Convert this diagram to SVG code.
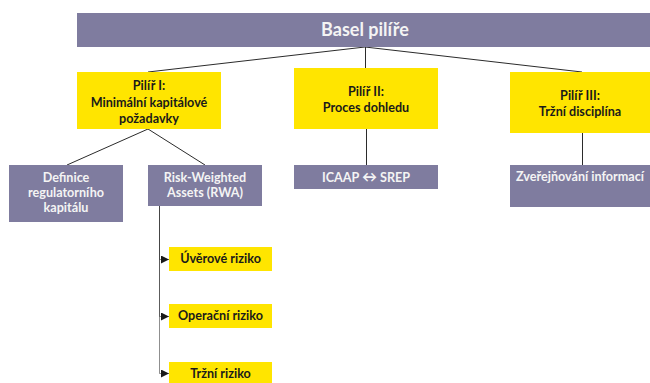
<svg xmlns="http://www.w3.org/2000/svg" width="650" height="383" viewBox="0 0 650 383">
<defs>
<style>
.p{fill:#7f7c9f}
.y{fill:#ffe500}
.t{font-family:Lato,"Liberation Sans",sans-serif;font-weight:bold;font-size:12.6px;text-anchor:middle}
.w{fill:#f4f4f4}
.k{fill:#1a1a1a}
.c{fill:none;stroke:#2b2b2b;stroke-width:1}
.r{fill:none;stroke:#333;stroke-opacity:0.55;stroke-width:1}
</style>
<marker id="ah" viewBox="0 0 8 8" refX="8" refY="4" markerWidth="8" markerHeight="8" markerUnits="userSpaceOnUse" orient="auto">
<path d="M0,0 L8,4 L0,8 Z" fill="#1a1a1a"/>
</marker>
</defs>
<rect width="650" height="383" fill="#fff"/>
<g id="connectors">
<path class="c" d="M365.5,47 V68"/>
<path class="c" d="M365,47 L148,72"/>
<path class="c" d="M365,47 L582,72"/>
<path class="c" d="M148,129 L67,165"/>
<path class="c" d="M148,129 L205,165"/>
<path class="c" d="M366.5,129 V165"/>
<path class="c" d="M582.5,133 V165"/>
<path class="r" d="M159.5,206 V259.5 H169" marker-end="url(#ah)"/>
<path class="r" d="M159.5,206 V316.5 H169" marker-end="url(#ah)"/>
<path class="r" d="M159.5,206 V373.5 H169" marker-end="url(#ah)"/>
</g>
<g id="basel">
<rect class="p" x="77" y="13" width="573" height="34"/>
<text class="t w" x="365" y="36" style="font-size:18px">Basel pilíře</text>
</g>
<g id="pilir1">
<rect class="y" x="77" y="72" width="144" height="57"/>
<text class="t k" x="149" y="90">Pilíř I:</text>
<text class="t k" x="149" y="107">Minimální kapitálové</text>
<text class="t k" x="149" y="123">požadavky</text>
</g>
<g id="pilir2">
<rect class="y" x="294" y="68" width="144" height="61"/>
<text class="t k" x="366" y="96">Pilíř II:</text>
<text class="t k" x="366" y="112">Proces dohledu</text>
</g>
<g id="pilir3">
<rect class="y" x="510" y="72" width="140" height="61"/>
<text class="t k" x="580" y="100">Pilíř III:</text>
<text class="t k" x="580" y="116">Tržní disciplína</text>
</g>
<g id="definice">
<rect class="p" x="9" y="165" width="114" height="57"/>
<text class="t w" x="66" y="182">Definice</text>
<text class="t w" x="66" y="197">regulatorního</text>
<text class="t w" x="66" y="212">kapitálu</text>
</g>
<g id="rwa">
<rect class="p" x="148" y="165" width="114" height="41"/>
<text class="t w" x="205" y="182">Risk-Weighted</text>
<text class="t w" x="205" y="197">Assets (RWA)</text>
</g>
<g id="icaap">
<rect class="p" x="294" y="165" width="144" height="24"/>
<text class="t w" x="366" y="182">ICAAP <tspan style="font-size:15px">↔</tspan> SREP</text>
</g>
<g id="zverejnovani">
<rect class="p" x="510" y="165" width="140" height="42"/>
<text class="t w" x="580" y="181">Zveřejňování informací</text>
</g>
<g id="uverove">
<rect class="y" x="169" y="247" width="103" height="24"/>
<text class="t k" x="220.5" y="263">Úvěrové riziko</text>
</g>
<g id="operacni">
<rect class="y" x="169" y="304" width="103" height="24"/>
<text class="t k" x="220.5" y="320">Operační riziko</text>
</g>
<g id="trzni">
<rect class="y" x="169" y="362" width="103" height="24"/>
<text class="t k" x="220.5" y="378">Tržní riziko</text>
</g>
</svg>
